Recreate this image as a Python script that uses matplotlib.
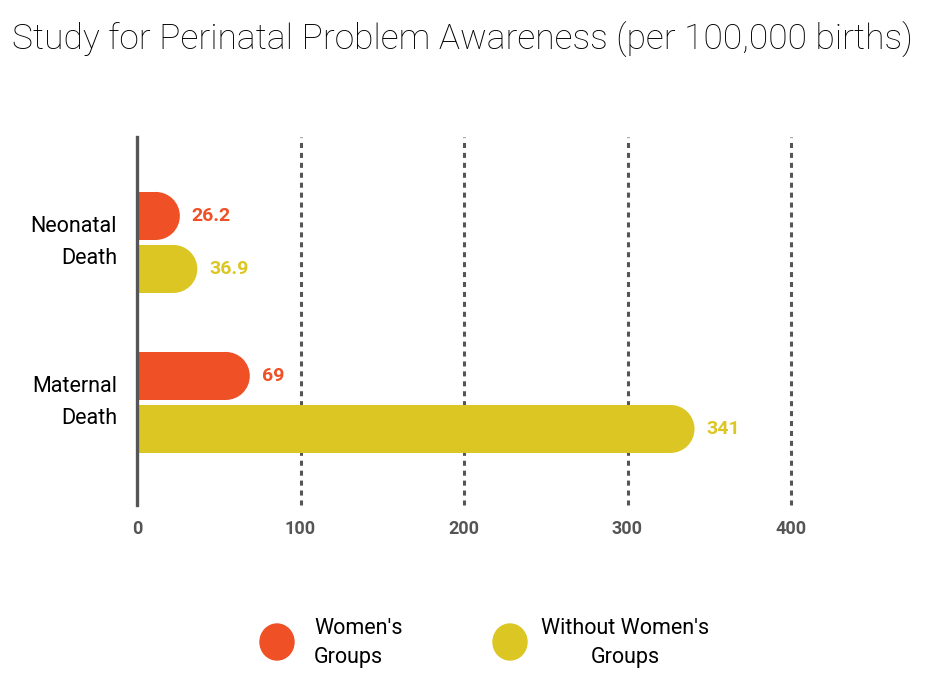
import matplotlib
matplotlib.use("Agg")
import matplotlib.pyplot as plt
from matplotlib.patches import Ellipse
import numpy as np

categories = ["Neonatal\nDeath", "Maternal\nDeath"]
series_names = ["Women's\nGroups", "Without Women's\nGroups"]
womens = [26.2, 69]
without = [36.9, 341]
value_labels_w = ["26.2", "69"]
value_labels_wo = ["36.9", "341"]
xticks = [0, 100, 200, 300, 400]

ORANGE = "#F05026"
YELLOW = "#DCC624"
GRAY = "#555555"
FONT = ["Roboto", "DejaVu Sans"]
plt.rcParams["font.family"] = FONT

W, H = 933, 689
fig = plt.figure(figsize=(W / 100, H / 100), dpi=100)
ax_left, ax_right, ax_top, ax_bot = 137, 791, 137, 505
ax = fig.add_axes([ax_left / W, 1 - ax_bot / H, (ax_right - ax_left) / W, (ax_bot - ax_top) / H])
ax.set_xlim(0, 400)
ax.set_ylim(1.641, -0.659)
for s in ax.spines.values():
    s.set_visible(False)
ax.set_xticks([])
ax.set_yticks([])

# grid
for t in xticks[1:]:
    ax.axvline(t, color=GRAY, lw=2.2, linestyle=(0, (1.65, 1.6)), zorder=0, clip_on=False)
ax.axvline(0, color=GRAY, lw=2.4, zorder=5, clip_on=False)

px_per_x = (ax_right - ax_left) / 400
bar_h = 0.3
off = 0.1656
r_x = 24 / px_per_x

ypos = np.arange(len(categories))
for vals, labels, color, sign in [(womens, value_labels_w, ORANGE, -1), (without, value_labels_wo, YELLOW, 1)]:
    for i, (v, lab) in enumerate(zip(vals, labels)):
        yc = ypos[i] + sign * off
        ax.barh(yc, max(v - r_x, 0), height=bar_h, color=color, zorder=2, linewidth=0)
        ax.add_patch(Ellipse((v - r_x, yc), 2 * r_x, bar_h, color=color, zorder=2, linewidth=0))
        ax.text(v + 12 / px_per_x, yc, lab, color=color, fontsize=14, fontweight="bold",
                ha="left", va="center", zorder=3)

# category labels
for i, c in enumerate(categories):
    ax.text(-20 / px_per_x, ypos[i], c, ha="right", va="center", fontsize=15.5,
            color="black", linespacing=1.65, clip_on=False)

# x tick labels
for t in xticks:
    ax.text(t, 1.641 + 24 / 160, str(t), ha="center", va="center", fontsize=13,
            fontweight="bold", color=GRAY, clip_on=False)

# title
fig.text(12 / W, 1 - 40 / H, "Study for Perinatal Problem Awareness (per 100,000 births)",
         ha="left", va="center", fontsize=25.5, fontweight="light", color="black")

# legend
lx = [277, 510]
for k, (name, color) in enumerate(zip(series_names, [ORANGE, YELLOW])):
    fig.patches.append(Ellipse((lx[k] / W, 1 - 642 / H), 34 / W, 36 / H, color=color,
                               transform=fig.transFigure))
fig.text(314 / W, 1 - 643 / H, series_names[0], ha="left", va="center", fontsize=15.5,
         linespacing=1.5, multialignment="left")
fig.text(625 / W, 1 - 643 / H, series_names[1], ha="center", va="center", fontsize=15.5,
         linespacing=1.5, multialignment="center")

fig.savefig("out.png", dpi=100)
